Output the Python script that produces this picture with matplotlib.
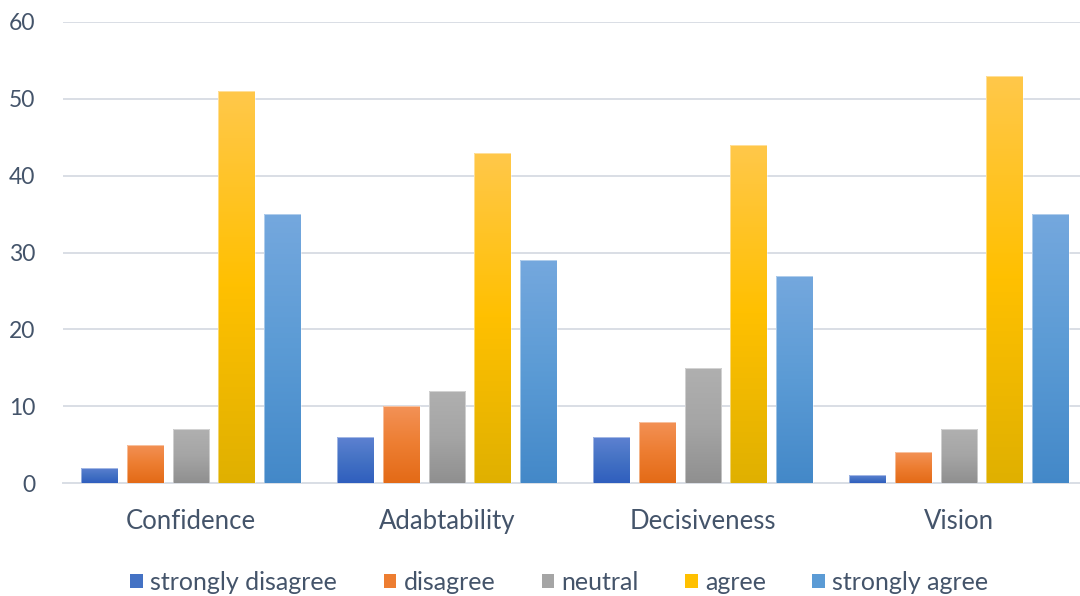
import numpy as np
import matplotlib
matplotlib.use("Agg")
import matplotlib.pyplot as plt
from matplotlib.colors import to_rgb
from matplotlib.patches import Patch

plt.rcParams['font.family'] = ['Lato', 'DejaVu Sans']

categories = ["Confidence", "Adabtability", "Decisiveness", "Vision"]
series_names = ["strongly disagree", "disagree", "neutral", "agree", "strongly agree"]
strongly_disagree = [2, 6, 6, 1]
disagree = [5, 10, 8, 4]
neutral = [7, 12, 15, 7]
agree = [51, 43, 44, 53]
strongly_agree = [35, 29, 27, 35]
series_values = [strongly_disagree, disagree, neutral, agree, strongly_agree]
y_ticks = [0, 10, 20, 30, 40, 50, 60]

# (top, middle, bottom) gradient stops for each series
gradients = [
    ("#5F82D2", "#4472C4", "#2F5EBE"),
    ("#F39257", "#ED7D31", "#E36A16"),
    ("#B0B0B0", "#A5A5A5", "#8F8F8F"),
    ("#FFC84C", "#FFC000", "#DFB000"),
    ("#75A8DE", "#5B9BD5", "#4388C8"),
]
base_colors = [g[1] for g in gradients]
text_color = "#44546A"
grid_color = "#D9DEE5"

fig = plt.figure(figsize=(10.8, 5.96), dpi=100)
ax = fig.add_axes([63 / 1080, (596 - 483) / 596, 1024 / 1080, 461 / 596])


def gradient_image(top, mid, bottom, n=256):
    t = np.linspace(0, 1, n)[:, None]  # 0 at top row, 1 at bottom row
    top, mid, bottom = (np.array(to_rgb(c)) for c in (top, mid, bottom))
    img = np.where(t < 0.5,
                   top + (mid - top) * (t / 0.5),
                   mid + (bottom - mid) * ((t - 0.5) / 0.5))
    return img[:, None, :].repeat(2, axis=1)


pitch = 0.1787
width = 0.1445
x = np.arange(len(categories))
for k, (vals, grad) in enumerate(zip(series_values, gradients)):
    img = gradient_image(*grad)
    offs = (k - 2) * pitch
    bars = ax.bar(x + offs, vals, width, facecolor='none',
                  edgecolor=(1, 1, 1, 0.45), linewidth=0.7, zorder=4)
    for bar, v in zip(bars, vals):
        x0 = bar.get_x()
        pad = 0.01 * max(v, 1)
        im = ax.imshow(img, extent=[x0 - 0.01, x0 + width + 0.01, -pad, v + pad],
                       aspect='auto', origin='upper', zorder=3,
                       interpolation='bilinear')
        im.set_clip_path(bar)

ax.set_xlim(-0.5, len(categories) - 0.5)
ax.set_ylim(0, 60)
ax.set_yticks(y_ticks)
ax.set_xticks(x)
ax.set_xticklabels(categories)
ax.grid(axis='y', color=grid_color, linewidth=1.4, zorder=0)
ax.set_axisbelow(True)
for s in ['top', 'right', 'left']:
    ax.spines[s].set_visible(False)
ax.spines['bottom'].set_color(grid_color)
ax.spines['bottom'].set_linewidth(1.4)
ax.tick_params(axis='both', length=0, colors=text_color)
ax.tick_params(axis='y', pad=20, labelsize=16.5)
ax.tick_params(axis='x', pad=19, labelsize=18.5)

handles = [Patch(facecolor=c, edgecolor='none') for c in base_colors]
fig.legend(handles, series_names, loc='center', bbox_to_anchor=(0.518, (596 - 582) / 596),
           ncol=5, frameon=False, fontsize=18, labelcolor=text_color,
           handlelength=0.5, handleheight=0.5, handletextpad=0.3,
           columnspacing=1.85)

fig.savefig("out.png", dpi=100)
